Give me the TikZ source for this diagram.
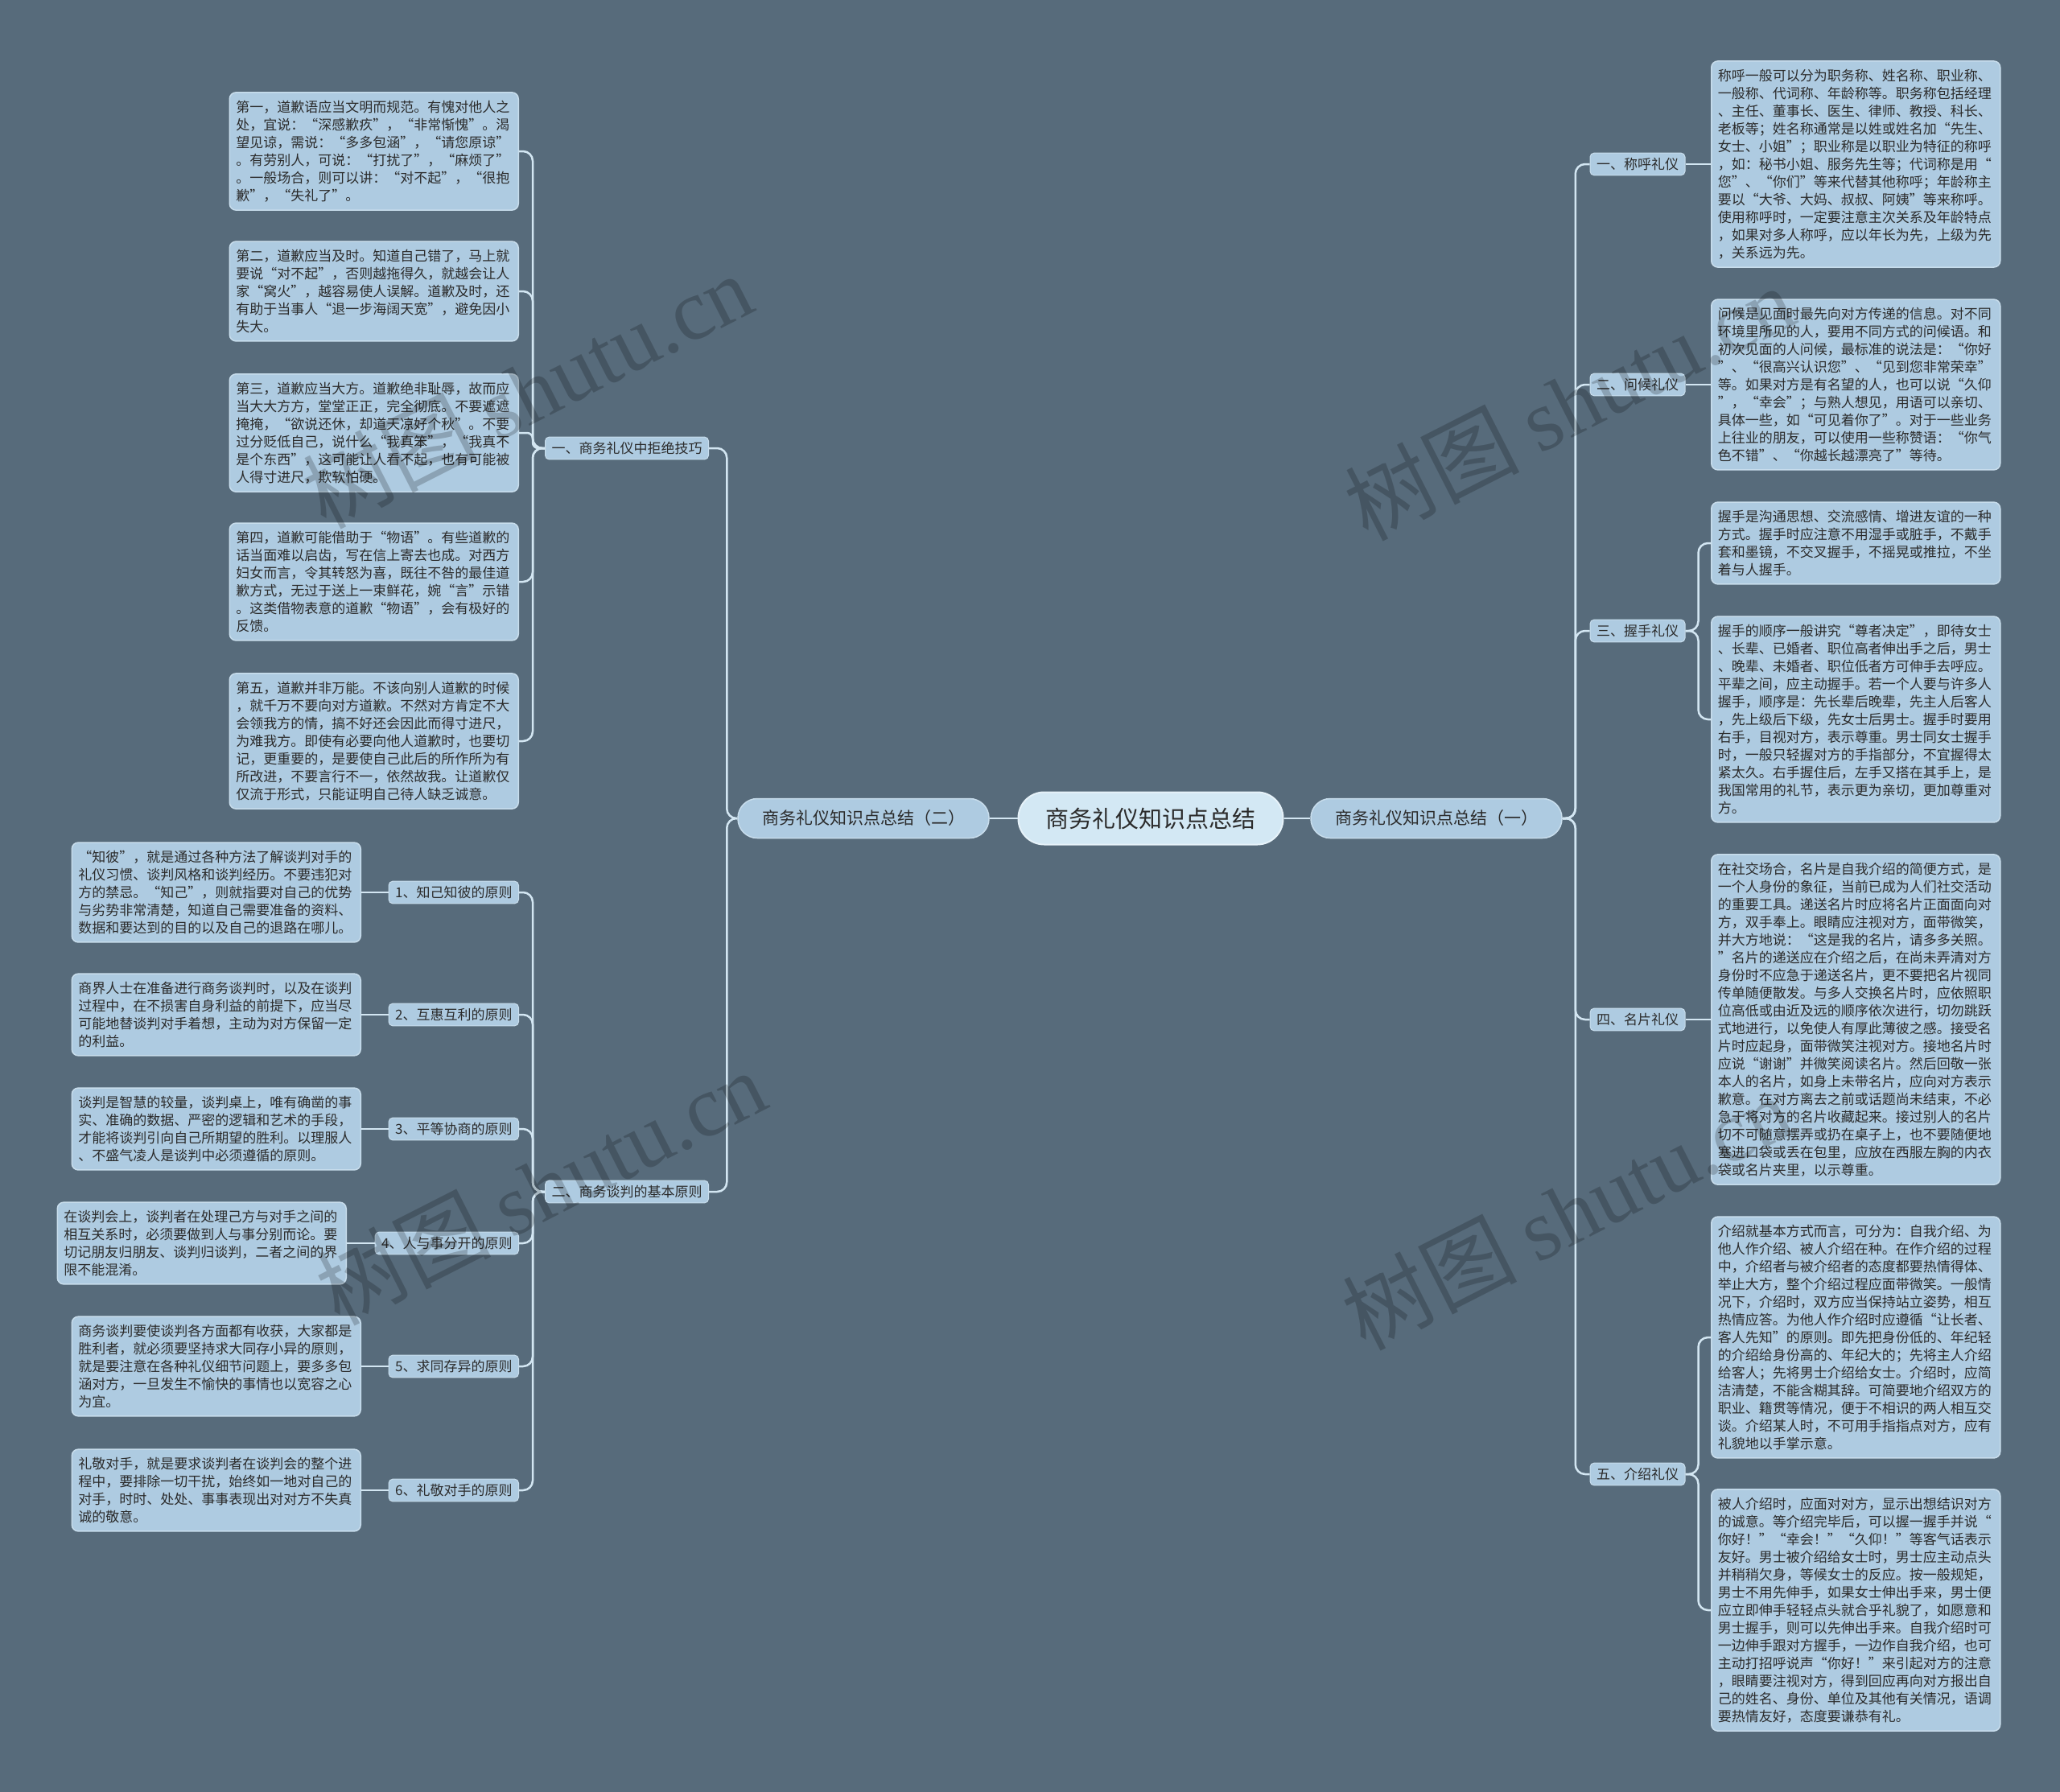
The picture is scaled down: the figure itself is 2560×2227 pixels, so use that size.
\documentclass[tikz,border=0pt]{standalone}
\usepackage{fontspec}
\setmainfont{Noto Sans CJK SC}
\newfontfamily\wmlatin{Liberation Serif}
\definecolor{bgc}{HTML}{576B7B}
\definecolor{boxfill}{HTML}{AECBE1}
\definecolor{boxedge}{HTML}{C8DDEC}
\definecolor{rootfill}{HTML}{D3E8F4}
\definecolor{rootedge}{HTML}{E6F2F9}
\definecolor{linec}{HTML}{D3E6F2}
\definecolor{textc}{HTML}{2B2B2B}
\tikzset{
  conn/.style={draw=linec, line width=2.5pt, rounded corners=12pt},
  tbox/.style={draw=boxedge, line width=1.5pt, fill=boxfill, rounded corners=8pt,
    align=left, text width=343pt, inner xsep=8pt, inner ysep=10pt,
    font=\fontsize{17pt}{22pt}\selectfont, text=textc},
  lab/.style={fill=boxfill, draw=boxedge, line width=1pt, rounded corners=5pt,
    inner xsep=8pt, inner ysep=6pt, font=\fontsize{17pt}{20pt}\selectfont, text=textc},
  branch/.style={fill=boxfill, draw=boxedge, line width=1.5pt, rounded corners=24pt,
    minimum height=49pt, inner xsep=30pt, font=\fontsize{21pt}{24pt}\selectfont, text=textc},
  rootnode/.style={fill=rootfill, draw=rootedge, line width=2pt, rounded corners=32pt,
    minimum height=65pt, inner xsep=34pt, font=\fontsize{29pt}{32pt}\selectfont, text=textc},
  wm/.style={text=black, text opacity=0.2, font=\fontsize{108pt}{108pt}\selectfont, rotate=27}
}
\begin{document}
\begin{tikzpicture}[x=1pt,y=-1pt]
\fill[bgc] (0,0) rectangle (2560,2227);
\useasboundingbox (0,0) rectangle (2560,2227);

% root and branches
\node[rootnode] (root) at (1430,1017) {商务礼仪知识点总结};
\node[branch] (R) at (1785,1017) {商务礼仪知识点总结（一）};
\node[branch] (L) at (1073,1017) {商务礼仪知识点总结（二）};

% right labels
\node[lab] (r1) at (2035,204) {一、称呼礼仪};
\node[lab] (r2) at (2035,478) {二、问候礼仪};
\node[lab] (r3) at (2035,784) {三、握手礼仪};
\node[lab] (r4) at (2035,1267) {四、名片礼仪};
\node[lab] (r5) at (2035,1832) {五、介绍礼仪};

% right boxes
\node[tbox, anchor=west] (rb1) at (2126,204) {称呼一般可以分为职务称、姓名称、职业称、\\一般称、代词称、年龄称等。职务称包括经理\\、主任、董事长、医生、律师、教授、科长、\\老板等；姓名称通常是以姓或姓名加“先生、\\女士、小姐”；职业称是以职业为特征的称呼\\，如：秘书小姐、服务先生等；代词称是用“\\您”、“你们”等来代替其他称呼；年龄称主\\要以“大爷、大妈、叔叔、阿姨”等来称呼。\\使用称呼时，一定要注意主次关系及年龄特点\\，如果对多人称呼，应以年长为先，上级为先\\，关系远为先。};
\node[tbox, anchor=west] (rb2) at (2126,478) {问候是见面时最先向对方传递的信息。对不同\\环境里所见的人，要用不同方式的问候语。和\\初次见面的人问候，最标准的说法是：“你好\\”、“很高兴认识您”、“见到您非常荣幸”\\等。如果对方是有名望的人，也可以说“久仰\\”，“幸会”；与熟人想见，用语可以亲切、\\具体一些，如“可见着你了”。对于一些业务\\上往业的朋友，可以使用一些称赞语：“你气\\色不错”、“你越长越漂亮了”等待。};
\node[tbox, anchor=west] (rb3) at (2126,675) {握手是沟通思想、交流感情、增进友谊的一种\\方式。握手时应注意不用湿手或脏手，不戴手\\套和墨镜，不交叉握手，不摇晃或推拉，不坐\\着与人握手。};
\node[tbox, anchor=west] (rb4) at (2126,894) {握手的顺序一般讲究“尊者决定”，即待女士\\、长辈、已婚者、职位高者伸出手之后，男士\\、晚辈、未婚者、职位低者方可伸手去呼应。\\平辈之间，应主动握手。若一个人要与许多人\\握手，顺序是：先长辈后晚辈，先主人后客人\\，先上级后下级，先女士后男士。握手时要用\\右手，目视对方，表示尊重。男士同女士握手\\时，一般只轻握对方的手指部分，不宜握得太\\紧太久。右手握住后，左手又搭在其手上，是\\我国常用的礼节，表示更为亲切，更加尊重对\\方。};
\node[tbox, anchor=west] (rb5) at (2126,1267) {在社交场合，名片是自我介绍的简便方式，是\\一个人身份的象征，当前已成为人们社交活动\\的重要工具。递送名片时应将名片正面面向对\\方，双手奉上。眼睛应注视对方，面带微笑，\\并大方地说：“这是我的名片，请多多关照。\\”名片的递送应在介绍之后，在尚未弄清对方\\身份时不应急于递送名片，更不要把名片视同\\传单随便散发。与多人交换名片时，应依照职\\位高低或由近及远的顺序依次进行，切勿跳跃\\式地进行，以免使人有厚此薄彼之感。接受名\\片时应起身，面带微笑注视对方。接地名片时\\应说“谢谢”并微笑阅读名片。然后回敬一张\\本人的名片，如身上未带名片，应向对方表示\\歉意。在对方离去之前或话题尚未结束，不必\\急于将对方的名片收藏起来。接过别人的名片\\切不可随意摆弄或扔在桌子上，也不要随便地\\塞进口袋或丢在包里，应放在西服左胸的内衣\\袋或名片夹里，以示尊重。};
\node[tbox, anchor=west] (rb6) at (2126,1662) {介绍就基本方式而言，可分为：自我介绍、为\\他人作介绍、被人介绍在种。在作介绍的过程\\中，介绍者与被介绍者的态度都要热情得体、\\举止大方，整个介绍过程应面带微笑。一般情\\况下，介绍时，双方应当保持站立姿势，相互\\热情应答。为他人作介绍时应遵循“让长者、\\客人先知”的原则。即先把身份低的、年纪轻\\的介绍给身份高的、年纪大的；先将主人介绍\\给客人；先将男士介绍给女士。介绍时，应简\\洁清楚，不能含糊其辞。可简要地介绍双方的\\职业、籍贯等情况，便于不相识的两人相互交\\谈。介绍某人时，不可用手指指点对方，应有\\礼貌地以手掌示意。};
\node[tbox, anchor=west] (rb7) at (2126,2001) {被人介绍时，应面对对方，显示出想结识对方\\的诚意。等介绍完毕后，可以握一握手并说“\\你好！”“幸会！”“久仰！”等客气话表示\\友好。男士被介绍给女士时，男士应主动点头\\并稍稍欠身，等候女士的反应。按一般规矩，\\男士不用先伸手，如果女士伸出手来，男士便\\应立即伸手轻轻点头就合乎礼貌了，如愿意和\\男士握手，则可以先伸出手来。自我介绍时可\\一边伸手跟对方握手，一边作自我介绍，也可\\主动打招呼说声“你好！”来引起对方的注意\\，眼睛要注视对方，得到回应再向对方报出自\\己的姓名、身份、单位及其他有关情况，语调\\要热情友好，态度要谦恭有礼。};

% left labels
\node[lab] (l1) at (779,557) {一、商务礼仪中拒绝技巧};
\node[lab] (l2) at (779,1481) {二、商务谈判的基本原则};

% left upper boxes
\node[tbox, anchor=east] (lb1) at (645,188) {第一，道歉语应当文明而规范。有愧对他人之\\处，宜说：“深感歉疚”，“非常惭愧”。渴\\望见谅，需说：“多多包涵”，“请您原谅”\\。有劳别人，可说：“打扰了”，“麻烦了”\\。一般场合，则可以讲：“对不起”，“很抱\\歉”，“失礼了”。};
\node[tbox, anchor=east] (lb2) at (645,362) {第二，道歉应当及时。知道自己错了，马上就\\要说“对不起”，否则越拖得久，就越会让人\\家“窝火”，越容易使人误解。道歉及时，还\\有助于当事人“退一步海阔天宽”，避免因小\\失大。};
\node[tbox, anchor=east] (lb3) at (645,538) {第三，道歉应当大方。道歉绝非耻辱，故而应\\当大大方方，堂堂正正，完全彻底。不要遮遮\\掩掩，“欲说还休，却道天凉好个秋”。不要\\过分贬低自己，说什么“我真笨”，“我真不\\是个东西”，这可能让人看不起，也有可能被\\人得寸进尺，欺软怕硬。};
\node[tbox, anchor=east] (lb4) at (645,723) {第四，道歉可能借助于“物语”。有些道歉的\\话当面难以启齿，写在信上寄去也成。对西方\\妇女而言，令其转怒为喜，既往不咎的最佳道\\歉方式，无过于送上一束鲜花，婉“言”示错\\。这类借物表意的道歉“物语”，会有极好的\\反馈。};
\node[tbox, anchor=east] (lb5) at (645,921) {第五，道歉并非万能。不该向别人道歉的时候\\，就千万不要向对方道歉。不然对方肯定不大\\会领我方的情，搞不好还会因此而得寸进尺，\\为难我方。即使有必要向他人道歉时，也要切\\记，更重要的，是要使自己此后的所作所为有\\所改进，不要言行不一，依然故我。让道歉仅\\仅流于形式，只能证明自己待人缺乏诚意。};

% left lower items
\node[lab, anchor=east] (it1) at (645,1109) {1、知己知彼的原则};
\node[lab, anchor=east] (it2) at (645,1261) {2、互惠互利的原则};
\node[lab, anchor=east] (it3) at (645,1403) {3、平等协商的原则};
\node[lab, anchor=east] (it4) at (645,1545) {4、人与事分开的原则};
\node[lab, anchor=east] (it5) at (645,1698) {5、求同存异的原则};
\node[lab, anchor=east] (it6) at (645,1852) {6、礼敬对手的原则};

% left lower boxes
\node[tbox, anchor=east] (ld1) at (449,1109) {“知彼”，就是通过各种方法了解谈判对手的\\礼仪习惯、谈判风格和谈判经历。不要违犯对\\方的禁忌。“知己”，则就指要对自己的优势\\与劣势非常清楚，知道自己需要准备的资料、\\数据和要达到的目的以及自己的退路在哪儿。};
\node[tbox, anchor=east] (ld2) at (449,1261) {商界人士在准备进行商务谈判时，以及在谈判\\过程中，在不损害自身利益的前提下，应当尽\\可能地替谈判对手着想，主动为对方保留一定\\的利益。};
\node[tbox, anchor=east] (ld3) at (449,1403) {谈判是智慧的较量，谈判桌上，唯有确凿的事\\实、准确的数据、严密的逻辑和艺术的手段，\\才能将谈判引向自己所期望的胜利。以理服人\\、不盛气凌人是谈判中必须遵循的原则。};
\node[tbox, anchor=east] (ld4) at (431,1545) {在谈判会上，谈判者在处理己方与对手之间的\\相互关系时，必须要做到人与事分别而论。要\\切记朋友归朋友、谈判归谈判，二者之间的界\\限不能混淆。};
\node[tbox, anchor=east] (ld5) at (449,1698) {商务谈判要使谈判各方面都有收获，大家都是\\胜利者，就必须要坚持求大同存小异的原则，\\就是要注意在各种礼仪细节问题上，要多多包\\涵对方，一旦发生不愉快的事情也以宽容之心\\为宜。};
\node[tbox, anchor=east] (ld6) at (449,1852) {礼敬对手，就是要求谈判者在谈判会的整个进\\程中，要排除一切干扰，始终如一地对自己的\\对手，时时、处处、事事表现出对对方不失真\\诚的敬意。};

% connectors
\draw[conn] (root.east) -- (R.west);
\draw[conn] (root.west) -- (L.east);
\foreach \n in {r1,r2,r3,r4,r5} \draw[conn] (R.east) -- ++(16,0) |- (\n.west);
\draw[conn] (r1.east) -- (rb1.west);
\draw[conn] (r2.east) -- (rb2.west);
\draw[conn] (r3.east) -- ++(16,0) |- (rb3.west);
\draw[conn] (r3.east) -- ++(16,0) |- (rb4.west);
\draw[conn] (r4.east) -- (rb4.west |- r4.east);
\draw[conn] (r5.east) -- ++(16,0) |- (rb6.west);
\draw[conn] (r5.east) -- ++(16,0) |- (rb7.west);

\foreach \n in {l1,l2} \draw[conn] (L.west) -- ++(-13,0) |- (\n.east);
\foreach \n in {lb1,lb2,lb4,lb5} \draw[conn] (l1.west) -- ++(-15,0) |- (\n.east);
\draw[conn, rounded corners=7pt] (l1.west) -- ++(-15,0) |- (lb3.east);
\foreach \n in {it1,it2,it3,it4,it5,it6} \draw[conn] (l2.west) -- ++(-15,0) |- (\n.east);
\draw[conn] (it1.west) -- (ld1.east);
\draw[conn] (it2.west) -- (ld2.east);
\draw[conn] (it3.west) -- (ld3.east);
\draw[conn] (it4.west) -- (ld4.east);
\draw[conn] (it5.west) -- (ld5.east);
\draw[conn] (it6.west) -- (ld6.east);

% watermarks
\node[wm] (w1) at (655,485) {树图 {\wmlatin shutu.cn}};
\node[wm] (w2) at (1950,500) {树图 {\wmlatin shutu.cn}};
\node[wm] (w3) at (672,1475) {树图 {\wmlatin shutu.cn}};
\node[wm] (w4) at (1947,1506) {树图 {\wmlatin shutu.cn}};
\end{tikzpicture}
\end{document}
